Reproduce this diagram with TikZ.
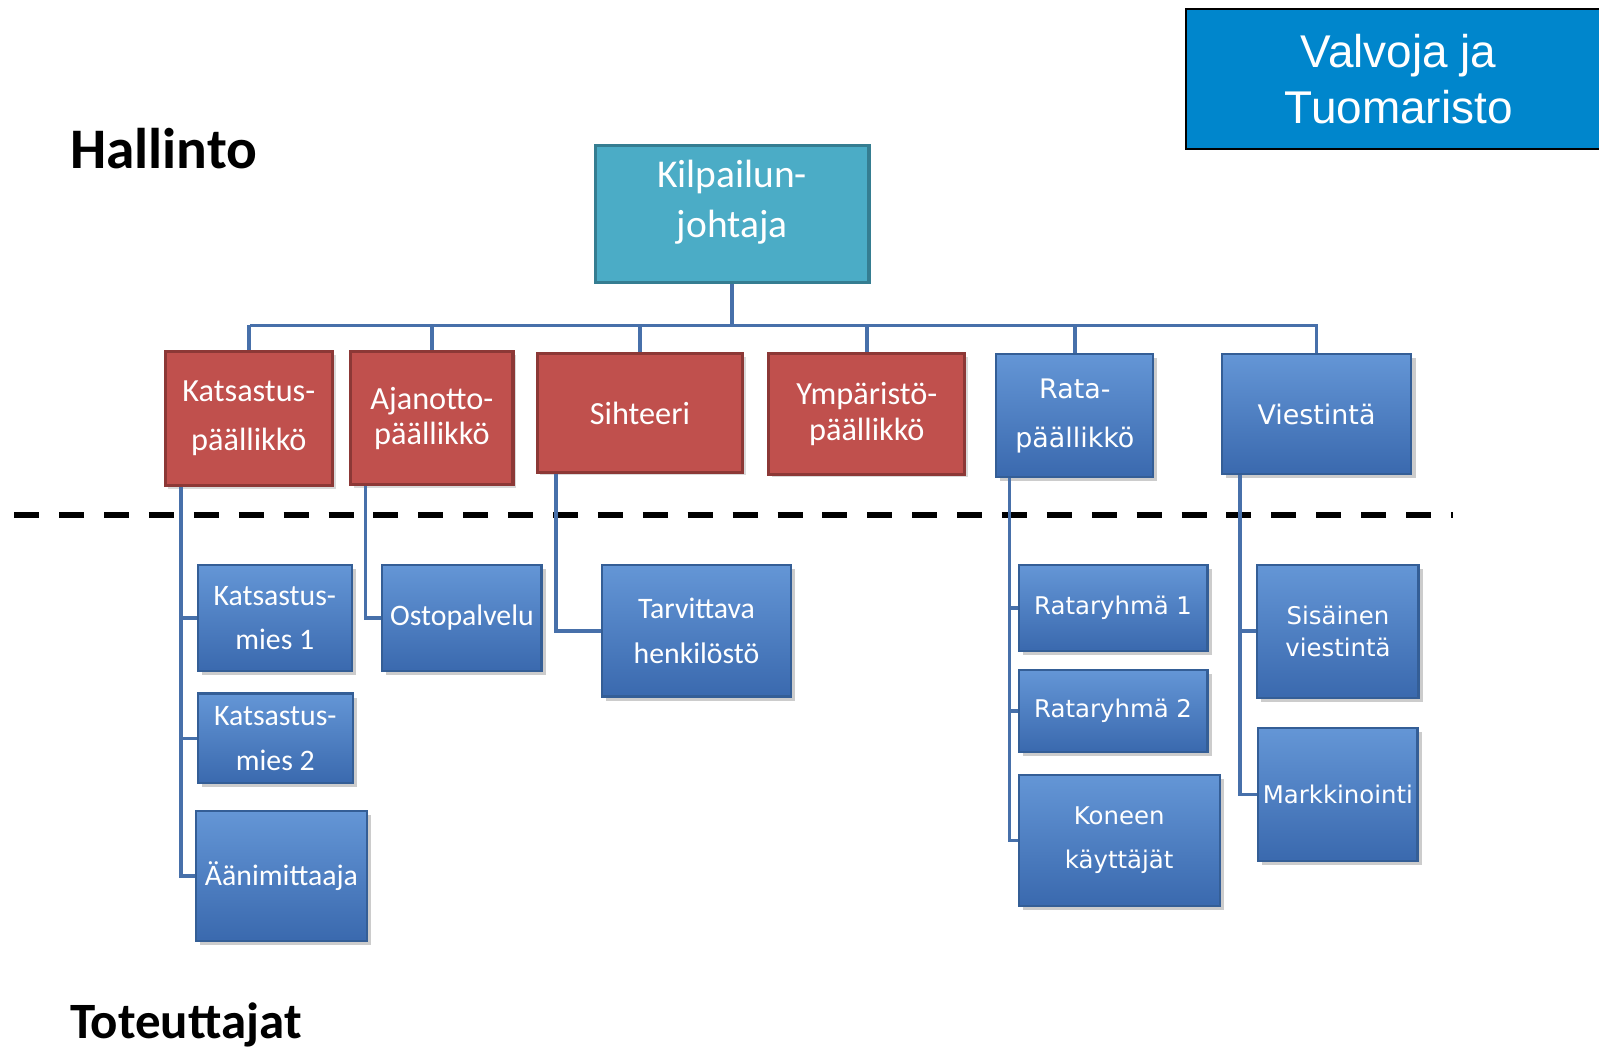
\documentclass[tikz,border=0pt]{standalone}
\usepackage{fontspec}
\setmainfont{Carlito}
\newfontfamily\verd{DejaVu Sans}
\newfontfamily\arial{Liberation Sans}
\usepackage{tikz}
\usetikzlibrary{shadows}

\definecolor{redfill}{HTML}{C0504D}
\definecolor{redline}{HTML}{8C3836}
\definecolor{bluetop}{HTML}{6496D6}
\definecolor{bluebot}{HTML}{3A69AE}
\definecolor{blueline}{HTML}{345E96}
\definecolor{tealfill}{HTML}{4BACC6}
\definecolor{tealline}{HTML}{357D91}
\definecolor{valvfill}{HTML}{0086CC}
\definecolor{connline}{HTML}{4770AA}

\begin{document}
\begin{tikzpicture}[
		x=0.01cm, y=-0.01cm,
		every node/.style={rectangle, inner sep=0pt, align=center, text=white},
		redbox/.style={fill=redfill, draw=redline, line width=0.9pt,
			drop shadow={shadow xshift=0.03cm, shadow yshift=-0.03cm, opacity=0.3},
			font=\fontsize{9pt}{9.8pt}\selectfont},
		bluebox/.style={top color=bluetop, bottom color=bluebot, draw=blueline, line width=0.6pt,
			drop shadow={shadow xshift=0.04cm, shadow yshift=-0.04cm, opacity=0.4},
			font=\fontsize{8.3pt}{12.5pt}\selectfont},
		verdbox/.style={bluebox, font=\verd\fontsize{6.8pt}{8.8pt}\selectfont},
		title/.style={text=black, font=\bfseries\fontsize{16pt}{19pt}\selectfont},
		conn/.style={draw=connline, line width=1pt},
		sep/.style={draw=black, line width=1.7pt, dash pattern=on 0.245cm off 0.195cm}
	]
  \useasboundingbox (0,0) rectangle (1568,1026);
  % raja hallinnon ja toteuttajien valissa
  \coordinate (dash_l) at (14,505);
  \coordinate (dash_r) at (1425,505);
  \draw[sep] (dash_l) -- (dash_r);

  \node (hall) [title, anchor=base west] at (68,165) {Hallinto};
  \node (tot) [title, anchor=base west, font=\bfseries\fontsize{14.2pt}{17pt}\selectfont] at (68,1018) {Toteuttajat};

  \node (valv) [fill=valvfill, draw=black, line width=0.7pt, minimum width=4.17cm, minimum height=1.37cm,
		font=\arial\fontsize{12.8pt}{15.4pt}\selectfont] at (1371.5,77.5) {Valvoja ja\\Tuomaristo};
  \node (kilp) [fill=tealfill, draw=tealline, line width=0.9pt, minimum width=2.68cm, minimum height=1.34cm] at (718,210) {};
  \node (kilp_label) [font=\fontsize{11pt}{14pt}\selectfont] at (718,198) {Kilpailun-\\johtaja};

  % hallinto
  \node (kat_p) [redbox, minimum width=1.64cm, minimum height=1.31cm] at (244,410.5) {Katsastus-\\[3.9pt]päällikkö};
  \node (ajan_p) [redbox, minimum width=1.59cm, minimum height=1.30cm] at (423.5,410) {Ajanotto-\\päällikkö};
  \node (siht) [redbox, minimum width=2.01cm, minimum height=1.16cm] at (627.5,405) {Sihteeri};
  \node (ymp_p) [redbox, minimum width=1.92cm, minimum height=1.18cm] at (850,406) {Ympäristö-\\päällikkö};
  \node (rata_p) [verdbox, minimum width=1.54cm, minimum height=1.21cm,
		font=\verd\fontsize{7.5pt}{13.7pt}\selectfont] at (1054,407.5) {Rata-\\päällikkö};
  \node (viest) [verdbox, minimum width=1.86cm, minimum height=1.18cm,
		font=\verd\fontsize{7.5pt}{9pt}\selectfont] at (1291,406) {Viestintä};

  % toteuttajat
  \node (kat_1) [bluebox, minimum width=1.51cm, minimum height=1.04cm] at (269.5,606) {Katsastus-\\mies 1};
  \node (kat_2) [bluebox, minimum width=1.52cm, minimum height=0.88cm] at (270,724) {Katsastus-\\mies 2};
  \node (aani) [bluebox, minimum width=1.68cm, minimum height=1.28cm] at (276,859) {Äänimittaaja};
  \node (osto) [bluebox, minimum width=1.56cm, minimum height=1.04cm] at (453,606) {Ostopalvelu};
  \node (tarv) [bluebox, minimum width=1.86cm, minimum height=1.29cm] at (683,618.5) {Tarvittava\\henkilöstö};
  \node (rr_1) [verdbox, minimum width=1.85cm, minimum height=0.84cm] at (1091.5,596) {Rataryhmä 1};
  \node (rr_2) [verdbox, minimum width=1.85cm, minimum height=0.80cm] at (1091.5,697) {Rataryhmä 2};
  \node (kone) [verdbox, minimum width=1.97cm, minimum height=1.28cm] at (1097.5,824) {Koneen\\[3.4pt]käyttäjät};
  \node (sis_v) [verdbox, minimum width=1.58cm, minimum height=1.30cm] at (1312,619) {Sisäinen\\viestintä};
  \node (mark) [verdbox, minimum width=1.56cm, minimum height=1.30cm] at (1312,779) {Markkinointi};

  \coordinate (bus_l) at (245,319);
  \coordinate (bus_r) at (1292,319);
  \draw[conn] (kilp.south) -- (kilp.south |- bus_l);
  \draw[conn] (bus_l) -- (bus_r);
  \foreach \n in {kat_p, ajan_p, siht, ymp_p, rata_p, viest}
    \draw[conn] (\n.north) -- (\n.north |- bus_l);

  \foreach \n in {kat_1, kat_2, aani}
    \draw[conn] ([xshift=0.17cm]kat_p.south west) |- (\n.west);
  \draw[conn] ([xshift=0.16cm]ajan_p.south west) |- (osto.west);
  \draw[conn] ([xshift=0.20cm]siht.south west) |- (tarv.west);
  \foreach \n in {rr_1, rr_2, kone}
    \draw[conn] ([xshift=0.14cm]rata_p.south west) |- (\n.west);
  \foreach \n in {sis_v, mark}
    \draw[conn] ([xshift=0.19cm]viest.south west) |- (\n.west);
\end{tikzpicture}
\end{document}
